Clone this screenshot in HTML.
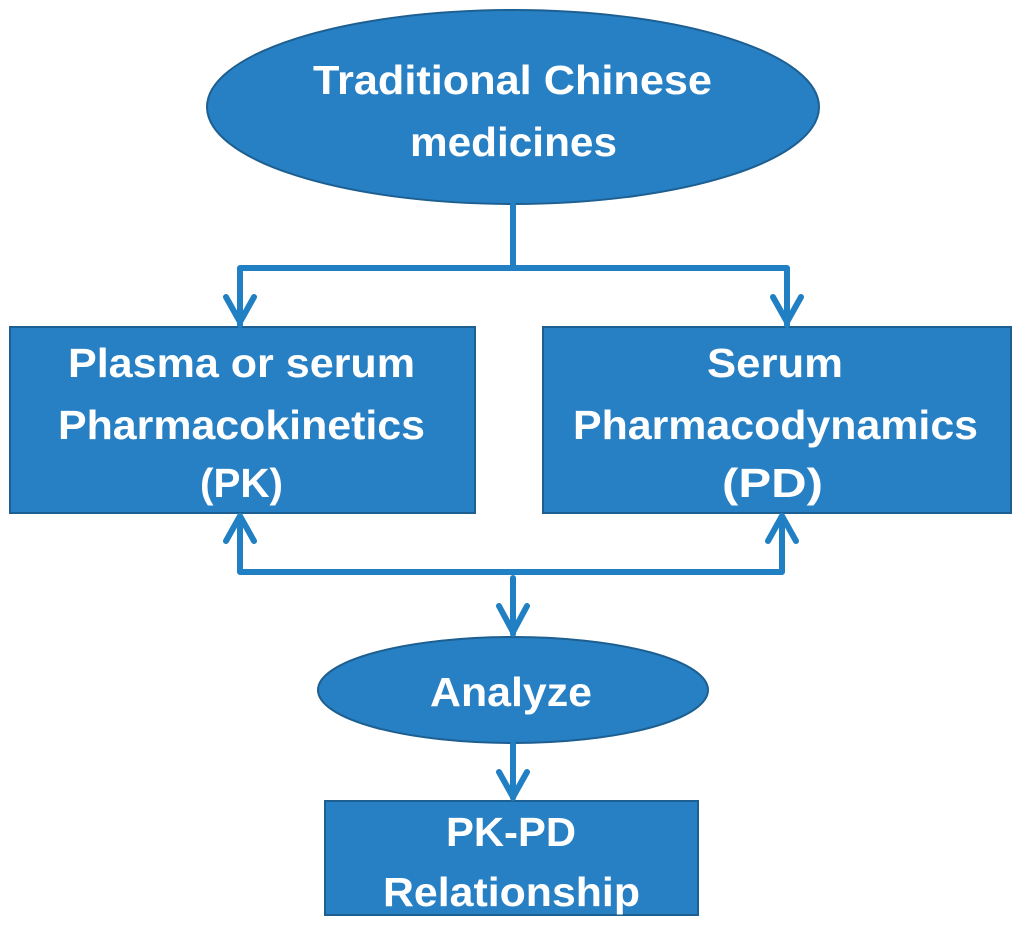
<!DOCTYPE html>
<html><head><meta charset="utf-8"><style>html,body{margin:0;padding:0;background:#fff}svg{display:block}</style></head>
<body>
<svg width="1024" height="927" viewBox="0 0 1024 927" xmlns="http://www.w3.org/2000/svg">
<g fill="#2880c4" stroke="#1d5f91" stroke-width="2">
<ellipse cx="513" cy="107" rx="306" ry="97"/>
<rect x="10" y="327" width="465" height="186"/>
<rect x="543" y="327" width="468" height="186"/>
<ellipse cx="513" cy="690" rx="195" ry="53"/>
<rect x="325" y="801" width="373" height="114"/>
</g>
<g stroke="#2180c4" stroke-width="6" fill="none" stroke-linecap="round" stroke-linejoin="round">
<path d="M513 205V268M240 325V268H787V325"/>
<path d="M226 297L240 322L254 297M773 297L787 322L801 297"/>
<path d="M240 516V572H782V516M226 541L240 516L254 541M768 541L782 516L796 541"/>
<path d="M513 578V634M499 606L513 632L527 606"/>
<path d="M513 744V798M499 772L513 797L527 772"/>
</g>
<g fill="#fff" font-family="Liberation Sans, sans-serif" font-weight="bold" font-size="41">
<text x="313" y="94" textLength="399" lengthAdjust="spacingAndGlyphs">Traditional Chinese</text>
<text x="410" y="156" textLength="207" lengthAdjust="spacingAndGlyphs">medicines</text>
<text x="68" y="377" textLength="347" lengthAdjust="spacingAndGlyphs">Plasma or serum</text>
<text x="58" y="439" textLength="367" lengthAdjust="spacingAndGlyphs">Pharmacokinetics</text>
<text x="200" y="497" textLength="83" lengthAdjust="spacingAndGlyphs">(PK)</text>
<text x="707" y="377" textLength="136" lengthAdjust="spacingAndGlyphs">Serum</text>
<text x="573" y="439" textLength="405" lengthAdjust="spacingAndGlyphs">Pharmacodynamics</text>
<text x="722" y="497" textLength="101" lengthAdjust="spacingAndGlyphs">(PD)</text>
<text x="430" y="706" textLength="162" lengthAdjust="spacingAndGlyphs">Analyze</text>
<text x="446" y="846" textLength="130" lengthAdjust="spacingAndGlyphs">PK-PD</text>
<text x="383" y="906" textLength="257" lengthAdjust="spacingAndGlyphs">Relationship</text>
</g>
</svg>
</body></html>
